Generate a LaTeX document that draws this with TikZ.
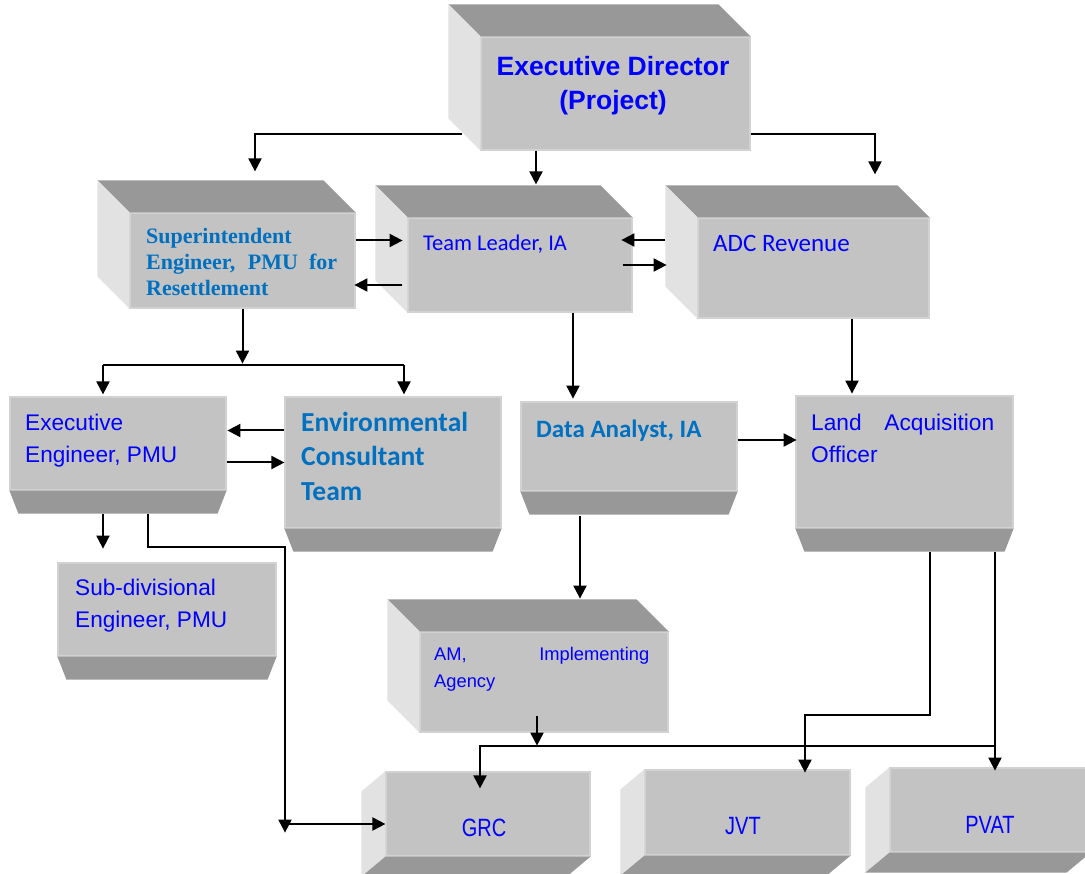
\documentclass[tikz,border=0pt]{standalone}
\usepackage{fontspec}
\usepackage{graphicx}
\setmainfont{Liberation Sans}
\newfontfamily\timesfont{Liberation Serif}
\newfontfamily\calibrifont{Carlito}
\usetikzlibrary{arrows.meta}
\definecolor{frontgray}{RGB}{195,195,195}
\definecolor{edgegray}{RGB}{210,210,210}
\definecolor{topgray}{RGB}{152,152,152}
\definecolor{sidegray}{RGB}{226,226,226}
\definecolor{txtblue}{RGB}{0,0,255}
\definecolor{wordblue}{RGB}{0,112,192}
\tikzstyle{face} = [rectangle, fill=frontgray, draw=edgegray, line width=1.2pt, inner sep=0pt]
\tikzstyle{txt} = [inner sep=0pt, text=txtblue, anchor=north west, align=left]
\tikzstyle{narrowtxt} = [inner sep=0pt, text=txtblue, font=\fontsize{25}{30}\selectfont]
\tikzstyle{link} = [line width=2pt]
\tikzstyle{arrow} = [line width=2pt, -{Triangle[length=13pt,width=13pt]}]

\begin{document}
\begin{tikzpicture}[x=1pt, y=-1pt]
    \useasboundingbox (0,0) rectangle (1085,874);
    \node (ed) [face, minimum width=269pt, minimum height=113pt] at (615.5,93.5) {};
    \node (sup) [face, minimum width=225pt, minimum height=95pt] at (242.5,260.5) {};
    \node (tl) [face, minimum width=224pt, minimum height=94pt] at (520,265) {};
    \node (adc) [face, minimum width=231pt, minimum height=100pt] at (813.5,268) {};
    \node (ee) [face, minimum width=216pt, minimum height=93pt] at (118,443.5) {};
    \node (env) [face, minimum width=216pt, minimum height=131pt] at (393,462.5) {};
    \node (da) [face, minimum width=216pt, minimum height=89pt] at (629,446.5) {};
    \node (lao) [face, minimum width=217pt, minimum height=132pt] at (904.5,462) {};
    \node (sub) [face, minimum width=218pt, minimum height=93pt] at (167,609.5) {};
    \node (am) [face, minimum width=248pt, minimum height=100pt] at (544,682) {};
    \node (grc) [face, minimum width=204pt, minimum height=84pt] at (488,814) {};
    \node (jvt) [face, minimum width=205pt, minimum height=85pt] at (747.5,812.5) {};
    \node (pvat) [face, minimum width=200pt, minimum height=84pt] at (990,810) {};

    \foreach \b in {ed,sup,tl,adc,am} {
        \fill [topgray] (\b.north west) -- ++(-32,-32) -- ([shift={(-32,-32)}]\b.north east) -- (\b.north east) -- cycle;
        \fill [sidegray] (\b.north west) -- ++(-32,-32) -- ([shift={(-32,-32)}]\b.south west) -- (\b.south west) -- cycle;
    }
    \foreach \b in {ee,env,da,lao,sub}
        \fill [topgray] (\b.south west) -- (\b.south east) -- ++(-9,23) -- ([shift={(9,23)}]\b.south west) -- cycle;
    \foreach \b in {grc,jvt,pvat} {
        \fill [sidegray] (\b.north west) -- ++(-24,20) -- ([shift={(-24,20)}]\b.south west) -- (\b.south west) -- cycle;
        \fill [topgray] (\b.south west) -- ++(-24,20) -- ([shift={(-24,20)}]\b.south east) -- (\b.south east) -- cycle;
    }

    \node (edtxt) [txt, anchor=north, align=center, font=\fontsize{26.5}{34}\selectfont\bfseries] at (613,56) {Executive Director\\(Project)};
    \node (suptxt) [txt, text=wordblue, font=\timesfont\fontsize{22}{26}\selectfont\bfseries] at (146,228) {Superintendent\\\makebox[191pt][s]{Engineer, PMU for}\\Resettlement};
    \node (tltxt) [txt, font=\calibrifont\fontsize{22.5}{27}\selectfont] at (423,235) {Team Leader, IA};
    \node (adctxt) [txt, font=\calibrifont\fontsize{25}{30}\selectfont] at (713,235) {ADC Revenue};
    \node (eetxt) [txt, font=\fontsize{22.6}{32}\selectfont] at (25,414) {Executive\\Engineer, PMU};
    \node (envtxt) [txt, text=wordblue, font=\calibrifont\fontsize{27.5}{34.5}\selectfont\bfseries] at (301,412) {Environmental\\Consultant\\Team};
    \node (datxt) [txt, text=wordblue, font=\calibrifont\fontsize{25}{30}\selectfont\bfseries] at (536,420) {Data Analyst, IA};
    \node (laotxt) [txt, font=\fontsize{22.7}{32}\selectfont] at (811,414) {\makebox[183pt][s]{Land Acquisition}\\Officer};
    \node (subtxt) [txt, font=\fontsize{22.6}{32}\selectfont] at (75,579) {Sub-divisional\\Engineer, PMU};
    \node (amtxt) [txt, font=\fontsize{18.3}{27}\selectfont] at (434,647) {\makebox[215pt][s]{AM, Implementing}\\Agency};
    \node (grctxt) [narrowtxt] at (484,828) {\scalebox{0.8}[1]{GRC}};
    \node (jvttxt) [narrowtxt] at (743,826) {\scalebox{0.8}[1]{JVT}};
    \node (pvattxt) [narrowtxt] at (990,825) {\scalebox{0.8}[1]{PVAT}};

    \draw [arrow] ([xshift=-18pt,yshift=17pt]ed.south west) -| ([xshift=12.5pt,yshift=41pt]sup.north);
    \draw [arrow] ([yshift=17pt]ed.south east) -| ([xshift=61.5pt,yshift=43pt]adc.north);
    \draw [arrow] ([xshift=-79.5pt]ed.south) -- ([xshift=16pt,yshift=33pt]tl.north);
    \draw [arrow] ([yshift=20pt]sup.east) -- ++(47,0);
    \draw [arrow] ([xshift=-5pt,yshift=-20pt]tl.west) -- ++(-48,0);
    \draw [arrow] ([xshift=-32pt,yshift=28pt]adc.west) -- ++(-44,0);
    \draw [arrow] ([xshift=-10pt]tl.east) -- ++(44,0);
    \draw [arrow] (sup.south) -- ++(0,55);
    \draw [link] ([xshift=-15pt,yshift=31pt]ee.north) -- ([xshift=11pt,yshift=31pt]env.north);
    \draw [arrow] ([xshift=-15pt,yshift=31pt]ee.north) -- ([xshift=-15pt,yshift=2pt]ee.north);
    \draw [arrow] ([xshift=11pt,yshift=31pt]env.north) -- ([xshift=11pt,yshift=2pt]env.north);
    \draw [arrow] ([yshift=32pt]env.west) -- ++(-57,0);
    \draw [arrow] (ee.east |- env.west) -- (env.west);
    \draw [arrow] ([xshift=-15pt,yshift=-23pt]ee.south) -- ++(0,35);
    \draw [arrow] ([xshift=30pt,yshift=-23pt]ee.south) |- ++(137,33) -- ++(0,286);
    \draw [arrow] ([yshift=-10pt]grc.west) ++(-101,0) -- ([yshift=-10pt]grc.west);
    \draw [arrow] ([xshift=53pt]tl.south) -- ++(0,86);
    \draw [arrow] ([xshift=38.5pt]adc.south) -- ++(0,75);
    \draw [arrow] ([yshift=6.5pt]da.east) -- ++(59,0);
    \draw [arrow] ([xshift=-49pt,yshift=-24pt]da.south) -- ++(0,83);
    \draw [arrow] ([xshift=-7pt,yshift=17pt]am.south) -- ++(0,30);
    \draw [arrow] ([xshift=25.5pt,yshift=-23pt]lao.south) |- ++(-125,163) -- ++(0,58);
    \draw [arrow] ([xshift=90.5pt,yshift=-23pt]lao.south) -- ++(0,219);
    \draw [arrow] ([xshift=90.5pt,yshift=-217pt]lao.south) -| ([xshift=-8pt,yshift=-17pt]grc.north);
\end{tikzpicture}
\end{document}
